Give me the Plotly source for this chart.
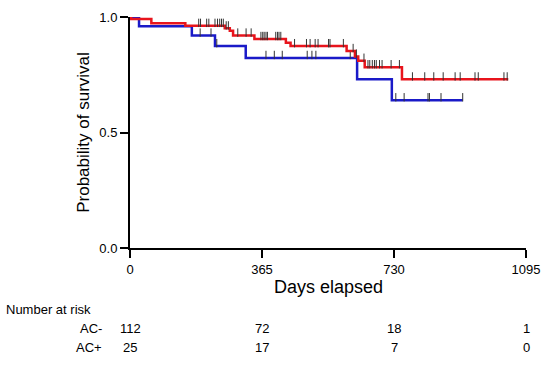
import numpy as np
import plotly.graph_objects as go

# ---- data ----
red_times = [0, 3, 59, 153, 262, 276, 285, 344, 431, 444, 599, 622, 631, 649, 752]
red_surv = [1.0, 0.991, 0.973, 0.962, 0.951, 0.94, 0.92, 0.905, 0.888, 0.874, 0.853, 0.829, 0.811, 0.783, 0.73]
red_end = 1046
red_censor = [190, 195, 212, 218, 235, 242, 248, 253, 258, 266, 272, 298, 321, 335,
              362, 367, 371, 376, 380, 403, 408, 412, 417, 455, 488, 498, 512, 520, 549, 553, 590,
              617, 626, 647, 658, 663, 670, 676, 681, 690, 697, 722, 745,
              781, 815, 840, 866, 899, 913, 954, 963, 1034, 1043]

blue_times = [0, 25, 171, 235, 320, 628, 724]
blue_surv = [1.0, 0.96, 0.92, 0.874, 0.823, 0.73, 0.64]
blue_end = 920
blue_censor = [194, 224, 240, 376, 399, 421, 490, 503, 514, 609, 735, 758, 824, 828, 860, 920]

x_ticks = [0, 365, 730, 1095]
y_ticks = [0.0, 0.5, 1.0]
y_tick_labels = ["0.0", "0.5", "1.0"]
groups = ["AC-", "AC+"]
risk_ac_minus = [112, 72, 18, 1]
risk_ac_plus = [25, 17, 7, 0]

RED = "#e8141c"
BLUE = "#1a1ac8"
FONT = "Arial, Liberation Sans, Helvetica, sans-serif"

# plot geometry (pixels)
W, H = 550, 371
L, R, T, B = 130, 20, 10, 123
plot_h = H - T - B


def step_value(times, surv, t):
    idx = np.searchsorted(np.asarray(times), t, side="right") - 1
    return np.asarray(surv)[idx]


fig = go.Figure()

for times, surv, end, cens, color in [
    (blue_times, blue_surv, blue_end, blue_censor, BLUE),
    (red_times, red_surv, red_end, red_censor, RED),
]:
    xs = list(times) + [end]
    ys = list(surv) + [surv[-1]]
    fig.add_trace(go.Scatter(x=xs, y=ys, mode="lines", line=dict(color=color, width=2.5, shape="hv"),
                             showlegend=False, hoverinfo="skip"))
    cy = step_value(times, surv, np.asarray(cens)) + 3.0 / plot_h
    fig.add_trace(go.Scatter(x=cens, y=cy, mode="markers",
                             marker=dict(symbol="line-ns", size=6, line=dict(color="#333333", width=1)),
                             showlegend=False, hoverinfo="skip"))

fig.update_xaxes(range=[0, 1095], tickvals=x_ticks, ticktext=[str(v) for v in x_ticks],
                 showline=True, linecolor="black", linewidth=2, ticks="outside", ticklen=8, tickwidth=2,
                 tickcolor="black", showgrid=False, zeroline=False,
                 tickfont=dict(family=FONT, size=13, color="black"))
fig.update_yaxes(range=[0, 1], tickvals=y_ticks, ticktext=y_tick_labels,
                 showline=True, linecolor="black", linewidth=2, ticks="outside", ticklen=8, tickwidth=2,
                 tickcolor="black", showgrid=False, zeroline=False,
                 tickfont=dict(family=FONT, size=13, color="black"),
                 title=dict(text="Probability of survival", font=dict(family=FONT, size=17, color="black"),
                            standoff=5))


def py(ypx):
    return (H - B - ypx) / plot_h


def px(xpx):
    return (xpx - L) / (W - L - R)


ann = []
ann.append(dict(text="Days elapsed", x=0.5, xref="paper", y=py(288), yref="paper",
                showarrow=False, font=dict(family=FONT, size=18, color="black"), xanchor="center", yanchor="middle"))
ann.append(dict(text="Number at risk", x=px(3), xref="paper", y=py(311), yref="paper",
                showarrow=False, font=dict(family=FONT, size=13, color="black"), xanchor="left", yanchor="middle"))
for name, row, ypix in [(groups[0], risk_ac_minus, 331), (groups[1], risk_ac_plus, 351)]:
    ann.append(dict(text=name, x=px(104), xref="paper", y=py(ypix), yref="paper",
                    showarrow=False, font=dict(family=FONT, size=13, color="black"), xanchor="right", yanchor="middle"))
    for xv, n in zip(x_ticks, row):
        ann.append(dict(text=str(n), x=xv, xref="x", y=py(ypix), yref="paper",
                        showarrow=False, font=dict(family=FONT, size=13, color="black"),
                        xanchor="center", yanchor="middle"))

fig.update_layout(width=W, height=H, margin=dict(l=L, r=R, t=T, b=B),
                  plot_bgcolor="white", paper_bgcolor="white", annotations=ann,
                  font=dict(family=FONT))

fig.write_html("out.html", config={"displayModeBar": False},
               post_script="document.body.style.margin='0';document.body.style.overflow='hidden';")
